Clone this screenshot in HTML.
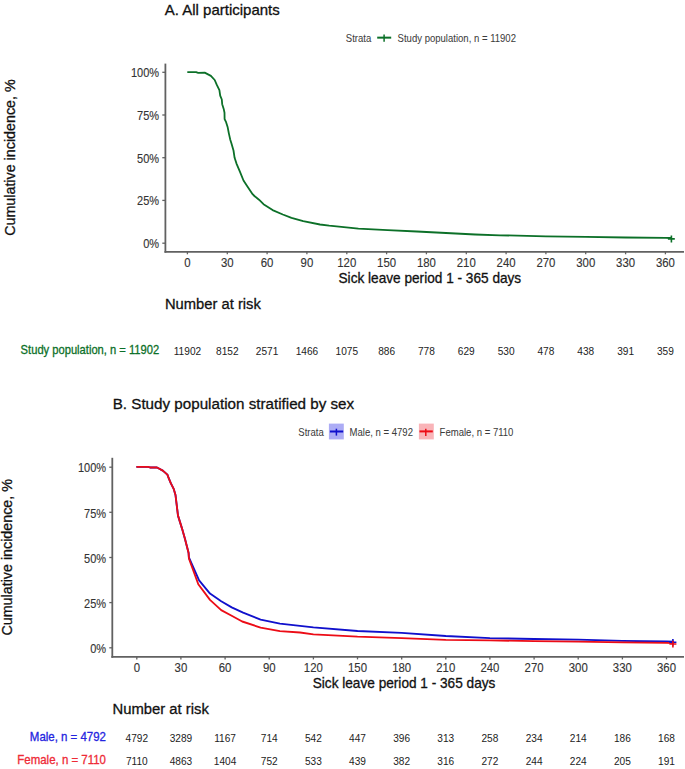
<!DOCTYPE html>
<html><head><meta charset="utf-8"><title>Cumulative incidence</title>
<style>html,body{margin:0;padding:0;background:#fff;width:685px;height:769px;overflow:hidden}svg{display:block;font-family:'Liberation Sans', sans-serif}</style>
</head><body>
<svg width="685" height="769" viewBox="0 0 685 769">
<rect width="685" height="769" fill="#fff"/>
<text x="164.70" y="15.20" font-size="15" fill="#111" stroke="#111" stroke-width="0.3">A. All participants</text>
<text transform="translate(345.80,42.00) scale(0.86,1)" font-size="11.1" fill="#3c3c3c" stroke="#3c3c3c" stroke-width="0.05">Strata</text>
<line x1="377.2" y1="37.65" x2="391.2" y2="37.65" stroke="#0c7028" stroke-width="2"/>
<line x1="384.1" y1="34.6" x2="384.1" y2="41.8" stroke="#0c7028" stroke-width="1.5"/>
<text transform="translate(397.60,42.00) scale(0.86,1)" font-size="11.1" fill="#3c3c3c" stroke="#3c3c3c" stroke-width="0.05">Study population, n = 11902</text>
<text transform="translate(15.1,157.6) rotate(-90)" text-anchor="middle" font-size="14.3" fill="#111" stroke="#111" stroke-width="0.3">Cumulative incidence, %</text>
<line x1="165.4" y1="63.6" x2="165.4" y2="252.7" stroke="#616161" stroke-width="1.8"/>
<line x1="164.5" y1="251.8" x2="684" y2="251.8" stroke="#616161" stroke-width="1.8"/>
<line x1="162.3" y1="243.2" x2="165.3" y2="243.2" stroke="#616161" stroke-width="1.3"/>
<text transform="translate(159.10,247.95) scale(0.92,1)" font-size="12.0" fill="#333" text-anchor="end" stroke="#333" stroke-width="0.12">0%</text>
<line x1="162.3" y1="200.4" x2="165.3" y2="200.4" stroke="#616161" stroke-width="1.3"/>
<text transform="translate(159.10,205.24) scale(0.92,1)" font-size="12.0" fill="#333" text-anchor="end" stroke="#333" stroke-width="0.12">25%</text>
<line x1="162.3" y1="157.7" x2="165.3" y2="157.7" stroke="#616161" stroke-width="1.3"/>
<text transform="translate(159.10,162.53) scale(0.92,1)" font-size="12.0" fill="#333" text-anchor="end" stroke="#333" stroke-width="0.12">50%</text>
<line x1="162.3" y1="115.0" x2="165.3" y2="115.0" stroke="#616161" stroke-width="1.3"/>
<text transform="translate(159.10,119.81) scale(0.92,1)" font-size="12.0" fill="#333" text-anchor="end" stroke="#333" stroke-width="0.12">75%</text>
<line x1="162.3" y1="72.3" x2="165.3" y2="72.3" stroke="#616161" stroke-width="1.3"/>
<text transform="translate(159.10,77.10) scale(0.92,1)" font-size="12.0" fill="#333" text-anchor="end" stroke="#333" stroke-width="0.12">100%</text>
<line x1="187.4" y1="251.8" x2="187.4" y2="254.3" stroke="#616161" stroke-width="1.3"/>
<text transform="translate(187.45,266.60) scale(0.95,1)" font-size="12.0" fill="#333" text-anchor="middle" stroke="#333" stroke-width="0.12">0</text>
<line x1="227.3" y1="251.8" x2="227.3" y2="254.3" stroke="#616161" stroke-width="1.3"/>
<text transform="translate(227.28,266.60) scale(0.95,1)" font-size="12.0" fill="#333" text-anchor="middle" stroke="#333" stroke-width="0.12">30</text>
<line x1="267.1" y1="251.8" x2="267.1" y2="254.3" stroke="#616161" stroke-width="1.3"/>
<text transform="translate(267.11,266.60) scale(0.95,1)" font-size="12.0" fill="#333" text-anchor="middle" stroke="#333" stroke-width="0.12">60</text>
<line x1="306.9" y1="251.8" x2="306.9" y2="254.3" stroke="#616161" stroke-width="1.3"/>
<text transform="translate(306.94,266.60) scale(0.95,1)" font-size="12.0" fill="#333" text-anchor="middle" stroke="#333" stroke-width="0.12">90</text>
<line x1="346.8" y1="251.8" x2="346.8" y2="254.3" stroke="#616161" stroke-width="1.3"/>
<text transform="translate(346.77,266.60) scale(0.95,1)" font-size="12.0" fill="#333" text-anchor="middle" stroke="#333" stroke-width="0.12">120</text>
<line x1="386.6" y1="251.8" x2="386.6" y2="254.3" stroke="#616161" stroke-width="1.3"/>
<text transform="translate(386.60,266.60) scale(0.95,1)" font-size="12.0" fill="#333" text-anchor="middle" stroke="#333" stroke-width="0.12">150</text>
<line x1="426.4" y1="251.8" x2="426.4" y2="254.3" stroke="#616161" stroke-width="1.3"/>
<text transform="translate(426.42,266.60) scale(0.95,1)" font-size="12.0" fill="#333" text-anchor="middle" stroke="#333" stroke-width="0.12">180</text>
<line x1="466.3" y1="251.8" x2="466.3" y2="254.3" stroke="#616161" stroke-width="1.3"/>
<text transform="translate(466.25,266.60) scale(0.95,1)" font-size="12.0" fill="#333" text-anchor="middle" stroke="#333" stroke-width="0.12">210</text>
<line x1="506.1" y1="251.8" x2="506.1" y2="254.3" stroke="#616161" stroke-width="1.3"/>
<text transform="translate(506.08,266.60) scale(0.95,1)" font-size="12.0" fill="#333" text-anchor="middle" stroke="#333" stroke-width="0.12">240</text>
<line x1="545.9" y1="251.8" x2="545.9" y2="254.3" stroke="#616161" stroke-width="1.3"/>
<text transform="translate(545.91,266.60) scale(0.95,1)" font-size="12.0" fill="#333" text-anchor="middle" stroke="#333" stroke-width="0.12">270</text>
<line x1="585.7" y1="251.8" x2="585.7" y2="254.3" stroke="#616161" stroke-width="1.3"/>
<text transform="translate(585.74,266.60) scale(0.95,1)" font-size="12.0" fill="#333" text-anchor="middle" stroke="#333" stroke-width="0.12">300</text>
<line x1="625.6" y1="251.8" x2="625.6" y2="254.3" stroke="#616161" stroke-width="1.3"/>
<text transform="translate(625.57,266.60) scale(0.95,1)" font-size="12.0" fill="#333" text-anchor="middle" stroke="#333" stroke-width="0.12">330</text>
<line x1="665.4" y1="251.8" x2="665.4" y2="254.3" stroke="#616161" stroke-width="1.3"/>
<text transform="translate(665.40,266.60) scale(0.95,1)" font-size="12.0" fill="#333" text-anchor="middle" stroke="#333" stroke-width="0.12">360</text>
<text transform="translate(338.50,282.80) scale(0.975,1)" font-size="14.0" fill="#111" stroke="#111" stroke-width="0.3">Sick leave period 1 - 365 days</text>
<polyline points="187.3,72.2 196.1,72.2 198.2,72.9 204.7,72.6 210.9,75.9 214.7,80 216.7,84.7 219.4,90.2 220.2,95.6 221.8,99.5 222.2,104.2 223.7,108.9 224.5,112.8 224.6,119.1 226.1,122.2 227.6,126.9 228.8,133.1 230.2,139.4 231.4,143.2 233.5,150.5 234.6,157.8 236.7,164.1 239.8,171.4 243.5,180.5 247.1,186 252.6,194.2 254.4,196 259,199.7 263.5,204.2 272.6,210.1 282.8,214.5 291.5,217.9 303.2,221.2 320,224.5 329.2,225.7 358.4,228.6 387.6,230.1 416.8,231.5 446,233 475.2,234.5 500,235.3 545.9,236.3 585.7,236.9 625.6,237.5 665.4,237.9 672.0,238.0" fill="none" stroke="#0c7028" stroke-width="1.8" stroke-linejoin="round"/>
<path d="M667.9,238.9h6.9M671.4,235.6v7" stroke="#0c7028" stroke-width="1.6"/>
<text transform="translate(164.90,309.00) scale(0.985,1)" font-size="15.0" fill="#111" stroke="#111" stroke-width="0.3">Number at risk</text>
<text transform="translate(159.20,353.60) scale(0.88,1)" font-size="12.7" fill="#0c7028" text-anchor="end" stroke="#0c7028" stroke-width="0.3">Study population, n = 11902</text>
<text transform="translate(187.45,354.60) scale(0.93,1)" font-size="10.9" fill="#222" text-anchor="middle">11902</text>
<text transform="translate(227.28,354.60) scale(0.93,1)" font-size="10.9" fill="#222" text-anchor="middle">8152</text>
<text transform="translate(267.11,354.60) scale(0.93,1)" font-size="10.9" fill="#222" text-anchor="middle">2571</text>
<text transform="translate(306.94,354.60) scale(0.93,1)" font-size="10.9" fill="#222" text-anchor="middle">1466</text>
<text transform="translate(346.77,354.60) scale(0.93,1)" font-size="10.9" fill="#222" text-anchor="middle">1075</text>
<text transform="translate(386.60,354.60) scale(0.93,1)" font-size="10.9" fill="#222" text-anchor="middle">886</text>
<text transform="translate(426.42,354.60) scale(0.93,1)" font-size="10.9" fill="#222" text-anchor="middle">778</text>
<text transform="translate(466.25,354.60) scale(0.93,1)" font-size="10.9" fill="#222" text-anchor="middle">629</text>
<text transform="translate(506.08,354.60) scale(0.93,1)" font-size="10.9" fill="#222" text-anchor="middle">530</text>
<text transform="translate(545.91,354.60) scale(0.93,1)" font-size="10.9" fill="#222" text-anchor="middle">478</text>
<text transform="translate(585.74,354.60) scale(0.93,1)" font-size="10.9" fill="#222" text-anchor="middle">438</text>
<text transform="translate(625.57,354.60) scale(0.93,1)" font-size="10.9" fill="#222" text-anchor="middle">391</text>
<text transform="translate(665.40,354.60) scale(0.93,1)" font-size="10.9" fill="#222" text-anchor="middle">359</text>
<text x="112.70" y="409.30" font-size="15.2" fill="#111" stroke="#111" stroke-width="0.3">B. Study population stratified by sex</text>
<text transform="translate(298.30,436.40) scale(0.86,1)" font-size="11.1" fill="#3c3c3c" stroke="#3c3c3c" stroke-width="0.05">Strata</text>
<rect x="328.9" y="423.6" width="14.9" height="15.8" fill="#acacf5"/>
<line x1="329.9" y1="431.5" x2="343.2" y2="431.5" stroke="#1010cc" stroke-width="2"/>
<line x1="336.4" y1="428.7" x2="336.4" y2="435.6" stroke="#1010cc" stroke-width="1.5"/>
<text transform="translate(349.60,436.40) scale(0.86,1)" font-size="11.1" fill="#3c3c3c" stroke="#3c3c3c" stroke-width="0.05">Male, n = 4792</text>
<rect x="418.9" y="423.6" width="14.9" height="15.8" fill="#f9b4b8"/>
<line x1="419.5" y1="431.4" x2="432.8" y2="431.4" stroke="#ec0c16" stroke-width="2"/>
<line x1="425.8" y1="428.7" x2="425.8" y2="436" stroke="#ec0c16" stroke-width="1.5"/>
<text transform="translate(439.60,436.40) scale(0.86,1)" font-size="11.1" fill="#3c3c3c" stroke="#3c3c3c" stroke-width="0.05">Female, n = 7110</text>
<text transform="translate(12.3,557.3) rotate(-90)" text-anchor="middle" font-size="14.3" fill="#111" stroke="#111" stroke-width="0.3">Cumulative incidence, %</text>
<line x1="112.3" y1="457.8" x2="112.3" y2="657.8" stroke="#616161" stroke-width="1.8"/>
<line x1="111.4" y1="656.9" x2="684" y2="656.9" stroke="#616161" stroke-width="1.8"/>
<line x1="109.3" y1="647.8" x2="112.3" y2="647.8" stroke="#616161" stroke-width="1.3"/>
<text transform="translate(106.10,653.00) scale(0.92,1)" font-size="12.0" fill="#333" text-anchor="end" stroke="#333" stroke-width="0.12">0%</text>
<line x1="109.3" y1="602.6" x2="112.3" y2="602.6" stroke="#616161" stroke-width="1.3"/>
<text transform="translate(106.10,607.85) scale(0.92,1)" font-size="12.0" fill="#333" text-anchor="end" stroke="#333" stroke-width="0.12">25%</text>
<line x1="109.3" y1="557.5" x2="112.3" y2="557.5" stroke="#616161" stroke-width="1.3"/>
<text transform="translate(106.10,562.70) scale(0.92,1)" font-size="12.0" fill="#333" text-anchor="end" stroke="#333" stroke-width="0.12">50%</text>
<line x1="109.3" y1="512.3" x2="112.3" y2="512.3" stroke="#616161" stroke-width="1.3"/>
<text transform="translate(106.10,517.55) scale(0.92,1)" font-size="12.0" fill="#333" text-anchor="end" stroke="#333" stroke-width="0.12">75%</text>
<line x1="109.3" y1="467.2" x2="112.3" y2="467.2" stroke="#616161" stroke-width="1.3"/>
<text transform="translate(106.10,472.40) scale(0.92,1)" font-size="12.0" fill="#333" text-anchor="end" stroke="#333" stroke-width="0.12">100%</text>
<line x1="136.8" y1="656.9" x2="136.8" y2="659.4" stroke="#616161" stroke-width="1.3"/>
<text transform="translate(136.80,672.10) scale(0.95,1)" font-size="12.0" fill="#333" text-anchor="middle" stroke="#333" stroke-width="0.12">0</text>
<line x1="180.9" y1="656.9" x2="180.9" y2="659.4" stroke="#616161" stroke-width="1.3"/>
<text transform="translate(180.94,672.10) scale(0.95,1)" font-size="12.0" fill="#333" text-anchor="middle" stroke="#333" stroke-width="0.12">30</text>
<line x1="225.1" y1="656.9" x2="225.1" y2="659.4" stroke="#616161" stroke-width="1.3"/>
<text transform="translate(225.08,672.10) scale(0.95,1)" font-size="12.0" fill="#333" text-anchor="middle" stroke="#333" stroke-width="0.12">60</text>
<line x1="269.2" y1="656.9" x2="269.2" y2="659.4" stroke="#616161" stroke-width="1.3"/>
<text transform="translate(269.23,672.10) scale(0.95,1)" font-size="12.0" fill="#333" text-anchor="middle" stroke="#333" stroke-width="0.12">90</text>
<line x1="313.4" y1="656.9" x2="313.4" y2="659.4" stroke="#616161" stroke-width="1.3"/>
<text transform="translate(313.37,672.10) scale(0.95,1)" font-size="12.0" fill="#333" text-anchor="middle" stroke="#333" stroke-width="0.12">120</text>
<line x1="357.5" y1="656.9" x2="357.5" y2="659.4" stroke="#616161" stroke-width="1.3"/>
<text transform="translate(357.51,672.10) scale(0.95,1)" font-size="12.0" fill="#333" text-anchor="middle" stroke="#333" stroke-width="0.12">150</text>
<line x1="401.7" y1="656.9" x2="401.7" y2="659.4" stroke="#616161" stroke-width="1.3"/>
<text transform="translate(401.65,672.10) scale(0.95,1)" font-size="12.0" fill="#333" text-anchor="middle" stroke="#333" stroke-width="0.12">180</text>
<line x1="445.8" y1="656.9" x2="445.8" y2="659.4" stroke="#616161" stroke-width="1.3"/>
<text transform="translate(445.79,672.10) scale(0.95,1)" font-size="12.0" fill="#333" text-anchor="middle" stroke="#333" stroke-width="0.12">210</text>
<line x1="489.9" y1="656.9" x2="489.9" y2="659.4" stroke="#616161" stroke-width="1.3"/>
<text transform="translate(489.93,672.10) scale(0.95,1)" font-size="12.0" fill="#333" text-anchor="middle" stroke="#333" stroke-width="0.12">240</text>
<line x1="534.1" y1="656.9" x2="534.1" y2="659.4" stroke="#616161" stroke-width="1.3"/>
<text transform="translate(534.08,672.10) scale(0.95,1)" font-size="12.0" fill="#333" text-anchor="middle" stroke="#333" stroke-width="0.12">270</text>
<line x1="578.2" y1="656.9" x2="578.2" y2="659.4" stroke="#616161" stroke-width="1.3"/>
<text transform="translate(578.22,672.10) scale(0.95,1)" font-size="12.0" fill="#333" text-anchor="middle" stroke="#333" stroke-width="0.12">300</text>
<line x1="622.4" y1="656.9" x2="622.4" y2="659.4" stroke="#616161" stroke-width="1.3"/>
<text transform="translate(622.36,672.10) scale(0.95,1)" font-size="12.0" fill="#333" text-anchor="middle" stroke="#333" stroke-width="0.12">330</text>
<line x1="666.5" y1="656.9" x2="666.5" y2="659.4" stroke="#616161" stroke-width="1.3"/>
<text transform="translate(666.50,672.10) scale(0.95,1)" font-size="12.0" fill="#333" text-anchor="middle" stroke="#333" stroke-width="0.12">360</text>
<text transform="translate(312.70,688.00) scale(0.975,1)" font-size="14.0" fill="#111" stroke="#111" stroke-width="0.3">Sick leave period 1 - 365 days</text>
<polyline points="136.4,466.9 148.4,466.9 150,467.5 157,467.5 162.8,470.6 167.4,474.6 168.7,478.2 170.9,483.4 173.8,489.2 175.5,495 176.1,500 178,515.6 181.9,528.1 185,539 188.6,553.1 188.9,557.5 199.1,580.4 210,593.6 221.2,601.3 231.7,607.4 243.1,612.7 260.6,619.7 279.9,623.7 300,625.8 313.4,627.4 357.5,631.0 401.7,632.9 445.8,636.0 489.9,638.1 534.1,639.0 578.2,639.7 622.4,640.8 666.5,641.5 673.9,641.7" fill="none" stroke="#1010cc" stroke-width="1.85" stroke-linejoin="round"/>
<polyline points="136.4,466.9 148.4,466.9 150,467.5 157,467.5 162.8,470.6 167.4,474.6 168.7,478.2 170.9,483.4 173.8,489.2 175.5,495 176.1,500 178,515.6 181.9,528.1 185,539 188.6,553.1 188.9,558.5 198.3,584.3 210,599.9 221.2,610.1 232.6,616.2 242.2,621.5 260.6,627.6 279.9,631.1 300,632.5 313.4,634.3 357.5,636.7 401.7,638.1 445.8,639.8 489.9,640.4 534.1,641.1 578.2,641.7 622.4,642.3 666.5,642.8 673.9,643.1" fill="none" stroke="#ec0c16" stroke-width="1.85" stroke-linejoin="round"/>
<path d="M669.4,642.2h7M672.9,638.9v6.6" stroke="#1010cc" stroke-width="1.6"/>
<path d="M669.4,644h7M672.9,640.8v6.8" stroke="#ec0c16" stroke-width="1.6"/>
<text transform="translate(112.50,713.80) scale(0.99,1)" font-size="15.0" fill="#111" stroke="#111" stroke-width="0.3">Number at risk</text>
<text transform="translate(106.00,741.00) scale(0.925,1)" font-size="12.4" fill="#2424e0" text-anchor="end" stroke="#2424e0" stroke-width="0.3">Male, n = 4792</text>
<text transform="translate(106.00,763.90) scale(0.925,1)" font-size="12.4" fill="#ee2a36" text-anchor="end" stroke="#ee2a36" stroke-width="0.3">Female, n = 7110</text>
<text transform="translate(136.80,741.70) scale(0.93,1)" font-size="10.9" fill="#222" text-anchor="middle">4792</text>
<text transform="translate(180.94,741.70) scale(0.93,1)" font-size="10.9" fill="#222" text-anchor="middle">3289</text>
<text transform="translate(225.08,741.70) scale(0.93,1)" font-size="10.9" fill="#222" text-anchor="middle">1167</text>
<text transform="translate(269.23,741.70) scale(0.93,1)" font-size="10.9" fill="#222" text-anchor="middle">714</text>
<text transform="translate(313.37,741.70) scale(0.93,1)" font-size="10.9" fill="#222" text-anchor="middle">542</text>
<text transform="translate(357.51,741.70) scale(0.93,1)" font-size="10.9" fill="#222" text-anchor="middle">447</text>
<text transform="translate(401.65,741.70) scale(0.93,1)" font-size="10.9" fill="#222" text-anchor="middle">396</text>
<text transform="translate(445.79,741.70) scale(0.93,1)" font-size="10.9" fill="#222" text-anchor="middle">313</text>
<text transform="translate(489.93,741.70) scale(0.93,1)" font-size="10.9" fill="#222" text-anchor="middle">258</text>
<text transform="translate(534.08,741.70) scale(0.93,1)" font-size="10.9" fill="#222" text-anchor="middle">234</text>
<text transform="translate(578.22,741.70) scale(0.93,1)" font-size="10.9" fill="#222" text-anchor="middle">214</text>
<text transform="translate(622.36,741.70) scale(0.93,1)" font-size="10.9" fill="#222" text-anchor="middle">186</text>
<text transform="translate(666.50,741.70) scale(0.93,1)" font-size="10.9" fill="#222" text-anchor="middle">168</text>
<text transform="translate(136.80,765.40) scale(0.93,1)" font-size="10.9" fill="#222" text-anchor="middle">7110</text>
<text transform="translate(180.94,765.40) scale(0.93,1)" font-size="10.9" fill="#222" text-anchor="middle">4863</text>
<text transform="translate(225.08,765.40) scale(0.93,1)" font-size="10.9" fill="#222" text-anchor="middle">1404</text>
<text transform="translate(269.23,765.40) scale(0.93,1)" font-size="10.9" fill="#222" text-anchor="middle">752</text>
<text transform="translate(313.37,765.40) scale(0.93,1)" font-size="10.9" fill="#222" text-anchor="middle">533</text>
<text transform="translate(357.51,765.40) scale(0.93,1)" font-size="10.9" fill="#222" text-anchor="middle">439</text>
<text transform="translate(401.65,765.40) scale(0.93,1)" font-size="10.9" fill="#222" text-anchor="middle">382</text>
<text transform="translate(445.79,765.40) scale(0.93,1)" font-size="10.9" fill="#222" text-anchor="middle">316</text>
<text transform="translate(489.93,765.40) scale(0.93,1)" font-size="10.9" fill="#222" text-anchor="middle">272</text>
<text transform="translate(534.08,765.40) scale(0.93,1)" font-size="10.9" fill="#222" text-anchor="middle">244</text>
<text transform="translate(578.22,765.40) scale(0.93,1)" font-size="10.9" fill="#222" text-anchor="middle">224</text>
<text transform="translate(622.36,765.40) scale(0.93,1)" font-size="10.9" fill="#222" text-anchor="middle">205</text>
<text transform="translate(666.50,765.40) scale(0.93,1)" font-size="10.9" fill="#222" text-anchor="middle">191</text>
</svg>
</body></html>
